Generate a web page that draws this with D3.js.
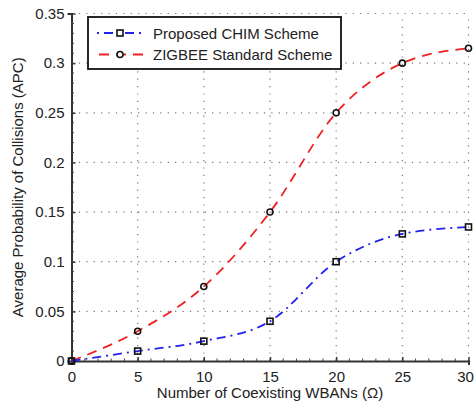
<!DOCTYPE html>
<html>
<head>
<meta charset="utf-8">
<script src="https://cdn.jsdelivr.net/npm/d3@7"></script>
<style>
  body { margin: 0; background: #fff; }
  text { font-family: "Liberation Sans", Arial, sans-serif; fill: #222; }
</style>
</head>
<body>
<div id="chart"></div>
<script>
const xValues = [0, 5, 10, 15, 20, 25, 30];
const chimValues = [0, 0.01, 0.02, 0.04, 0.1, 0.128, 0.135];
const zigbeeValues = [0, 0.03, 0.075, 0.15, 0.25, 0.3, 0.315];
const xTicks = [0, 5, 10, 15, 20, 25, 30];
const yTicks = [0, 0.05, 0.1, 0.15, 0.2, 0.25, 0.3, 0.35];
const seriesNames = ["Proposed CHIM Scheme", "ZIGBEE Standard Scheme"];

const width = 475, height = 402;
const margin = {left: 71.5, right: 6.5, top: 13.5, bottom: 41};
const fontSize = 15;

const svg = d3.select('#chart').append('svg')
    .attr('width', width)
    .attr('height', height);

const xScale = d3.scaleLinear().domain([0, 30]).range([margin.left, width - margin.right]);
const yScale = d3.scaleLinear().domain([0, 0.35]).range([height - margin.bottom, margin.top]);

// dotted grid
svg.append('g').selectAll('line').data(xTicks.slice(1)).join('line')
    .attr('x1', d => xScale(d)).attr('x2', d => xScale(d))
    .attr('y1', yScale(0)).attr('y2', yScale(0.35))
    .attr('stroke', '#777').attr('stroke-width', 1.2)
    .attr('stroke-dasharray', '1.2,6.2');
svg.append('g').selectAll('line').data(yTicks.slice(1)).join('line')
    .attr('y1', d => yScale(d)).attr('y2', d => yScale(d))
    .attr('x1', xScale(0)).attr('x2', xScale(30))
    .attr('stroke', '#777').attr('stroke-width', 1.2)
    .attr('stroke-dasharray', '1.2,6.2');

// axes
const xAxis = svg.append('g')
    .attr('transform', `translate(0,${yScale(0)})`)
    .call(d3.axisBottom(xScale).tickValues(xTicks).tickSize(4).tickPadding(6));
const yAxis = svg.append('g')
    .attr('transform', `translate(${xScale(0)},0)`)
    .call(d3.axisLeft(yScale).tickValues(yTicks).tickSize(4).tickPadding(3)
        .tickFormat(d => d3.format('')(+d.toFixed(2))));
[xAxis, yAxis].forEach(a => {
    a.select('.domain').attr('stroke', '#333').attr('stroke-width', 2);
    a.selectAll('.tick line').attr('stroke', '#333').attr('stroke-width', 1.5);
    a.selectAll('text').attr('font-size', fontSize).attr('fill', '#222')
        .style('font-family', '"Liberation Sans", Arial, sans-serif');
});
// tick marks pointing in
xAxis.selectAll('.tick line').attr('y2', -4);
yAxis.selectAll('.tick line').attr('x2', 4);
// keep the last x label inside the window
xAxis.selectAll('.tick text').filter(d => d === 30).attr('dx', -3.5);

// minor ticks
svg.append('g').selectAll('line').data(d3.range(1, 30)).join('line')
    .attr('x1', d => xScale(d)).attr('x2', d => xScale(d))
    .attr('y1', yScale(0)).attr('y2', yScale(0) - 2.5)
    .attr('stroke', '#444').attr('stroke-width', 1);
svg.append('g').selectAll('line').data(d3.range(1, 35).map(d => d / 100)).join('line')
    .attr('y1', d => yScale(d)).attr('y2', d => yScale(d))
    .attr('x1', xScale(0)).attr('x2', xScale(0) + 2.5)
    .attr('stroke', '#444').attr('stroke-width', 1);

// axis labels
svg.append('text')
    .attr('x', (xScale(0) + xScale(30)) / 2)
    .attr('y', 397.5)
    .attr('text-anchor', 'middle')
    .attr('font-size', fontSize)
    .text('Number of Coexisting WBANs (Ω)');
svg.append('text')
    .attr('transform', `translate(23,${(yScale(0) + yScale(0.35)) / 2}) rotate(-90)`)
    .attr('text-anchor', 'middle')
    .attr('font-size', fontSize)
    .text('Average Probability of Collisions (APC)');

// series
const line = d3.line()
    .x((d, i) => xScale(xValues[i]))
    .y(d => yScale(d))
    .curve(d3.curveMonotoneX);

svg.append('path').datum(zigbeeValues)
    .attr('d', line)
    .attr('fill', 'none').attr('stroke', '#ee2222')
    .attr('stroke-width', 1.8).attr('stroke-dasharray', '10,7');
svg.append('path').datum(chimValues)
    .attr('d', line)
    .attr('fill', 'none').attr('stroke', '#2222ee')
    .attr('stroke-width', 1.8).attr('stroke-dasharray', '9,5,2,5');

svg.append('g').selectAll('circle').data(zigbeeValues).join('circle')
    .attr('cx', (d, i) => xScale(xValues[i]))
    .attr('cy', d => yScale(d))
    .attr('r', 3)
    .attr('fill', 'none').attr('stroke', '#111').attr('stroke-width', 1.6);
svg.append('g').selectAll('rect').data(chimValues).join('rect')
    .attr('x', (d, i) => xScale(xValues[i]) - 3)
    .attr('y', d => yScale(d) - 3)
    .attr('width', 6).attr('height', 6)
    .attr('fill', 'none').attr('stroke', '#111').attr('stroke-width', 1.6);

// legend
const legend = svg.append('g');
legend.append('rect')
    .attr('x', 88).attr('y', 17)
    .attr('width', 253).attr('height', 52)
    .attr('fill', '#fff').attr('stroke', '#111').attr('stroke-width', 1.8);
const rowY = [33, 54.5];
legend.append('line')
    .attr('x1', 96).attr('x2', 144).attr('y1', rowY[0]).attr('y2', rowY[0])
    .attr('stroke', '#2222ee').attr('stroke-width', 1.8).attr('stroke-dasharray', '9,5,2,5')
    .attr('stroke-dashoffset', -8);
legend.append('rect')
    .attr('x', 117).attr('y', rowY[0] - 3).attr('width', 6).attr('height', 6)
    .attr('fill', '#fff').attr('stroke', '#111').attr('stroke-width', 1.6);
legend.append('line')
    .attr('x1', 96).attr('x2', 144).attr('y1', rowY[1]).attr('y2', rowY[1])
    .attr('stroke', '#ee2222').attr('stroke-width', 1.8).attr('stroke-dasharray', '10,7')
    .attr('stroke-dashoffset', -3);
legend.append('circle')
    .attr('cx', 120).attr('cy', rowY[1]).attr('r', 3)
    .attr('fill', '#fff').attr('stroke', '#111').attr('stroke-width', 1.6);
legend.selectAll('text.lbl').data(seriesNames).join('text')
    .attr('class', 'lbl')
    .attr('x', 153).attr('y', (d, i) => rowY[i] + 5.5)
    .attr('font-size', fontSize)
    .text(d => d);
</script>
</body>
</html>
